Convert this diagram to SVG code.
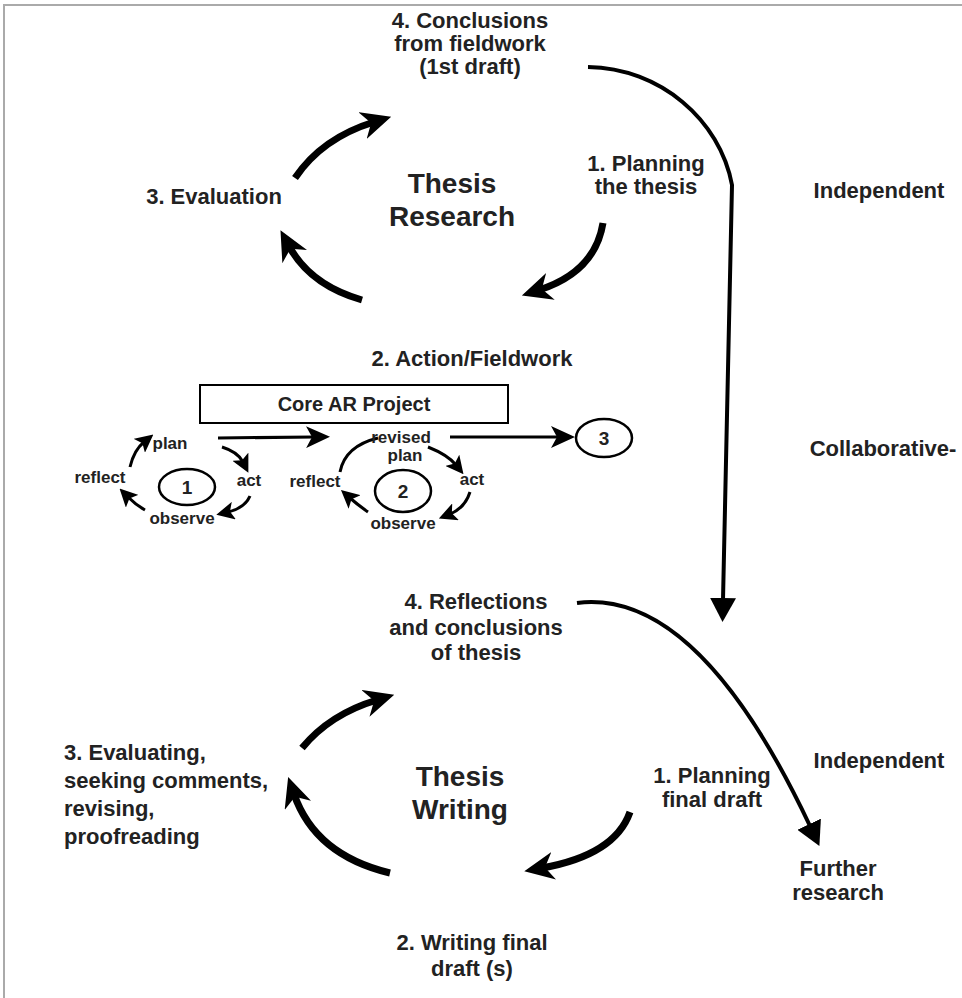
<svg xmlns="http://www.w3.org/2000/svg" width="962" height="998" viewBox="0 0 962 998">
<defs>
<style>
text{font-family:"Liberation Sans",Arial,sans-serif;font-weight:bold;fill:#222;}
.t{font-size:22px;text-anchor:middle;}
.h{font-size:28px;text-anchor:middle;}
.s{font-size:17px;text-anchor:middle;}
.n{font-size:19px;text-anchor:middle;}
.big{fill:none;stroke:#000;stroke-width:7;}
.long{fill:none;stroke:#000;stroke-width:4;}
.sm{fill:none;stroke:#000;stroke-width:3;}
.el{fill:#fff;stroke:#000;stroke-width:2.5;}
</style>
<marker id="mb" viewBox="0 0 30 28" markerWidth="30" markerHeight="28" markerUnits="userSpaceOnUse" refX="12" refY="14" orient="auto"><path d="M0,0 L30,14 L0,28 L9,14 z" fill="#000"/></marker>
<marker id="mm" viewBox="0 0 24 22" markerWidth="24" markerHeight="22" markerUnits="userSpaceOnUse" refX="8" refY="11" orient="auto"><path d="M0,0 L24,11 L0,22 L6,11 z" fill="#000"/></marker>
<marker id="ms" viewBox="0 0 18 18" markerWidth="18" markerHeight="18" markerUnits="userSpaceOnUse" refX="6" refY="9" orient="auto"><path d="M0,0 L18,9 L0,18 L4,9 z" fill="#000"/></marker>
<marker id="mt" viewBox="0 0 24 26" markerWidth="24" markerHeight="26" markerUnits="userSpaceOnUse" refX="2" refY="13" orient="auto"><path d="M0,0 L24,13 L0,26 z" fill="#000"/></marker>
</defs>
<rect width="962" height="998" fill="#fff"/>
<path d="M4,998 L4,5 L962,5" fill="none" stroke="#aaa" stroke-width="2"/>

<g id="connectors">
<path class="big" d="M295,178 Q322,138 374,122" marker-end="url(#mb)"/>
<path class="big" d="M603,223 Q595,272 539,290" marker-end="url(#mb)"/>
<path class="big" d="M362,300 Q310,285 289,246" marker-end="url(#mb)"/>
<path class="big" d="M302,748 Q330,714 377,700" marker-end="url(#mb)"/>
<path class="big" d="M390,873 Q315,855 294,794" marker-end="url(#mb)"/>
<path class="big" d="M630,812 Q615,855 542,868" marker-end="url(#mb)"/>
<path class="long" d="M588,67 C660,68 720,120 732,185 L723,600" marker-end="url(#mt)"/>
<path class="long" d="M577,603 C680,590 760,720 810,826" marker-end="url(#mt)"/>
<path class="sm" d="M218,438 L314,437" marker-end="url(#mm)"/>
<path class="sm" d="M450,437 L559,437" marker-end="url(#mm)"/>
<path class="sm" d="M130,467 Q134,450 144,442" marker-end="url(#ms)"/>
<path class="sm" d="M222,447 Q238,452 243,462" marker-end="url(#ms)"/>
<path class="sm" d="M250,496 Q245,508 228,512" marker-end="url(#ms)"/>
<path class="sm" d="M145,510 Q136,505 128,497" marker-end="url(#ms)"/>
<path class="sm" d="M340,472 Q345,446 378,438"/>
<path class="sm" d="M428,447 Q448,455 456,465" marker-end="url(#ms)"/>
<path class="sm" d="M470,492 Q465,508 450,514" marker-end="url(#ms)"/>
<path class="sm" d="M368,512 Q358,505 350,498" marker-end="url(#ms)"/>
</g>

<g id="conclusions-fieldwork"><text class="t" x="470" y="28">4. Conclusions</text><text class="t" x="470" y="51">from fieldwork</text><text class="t" x="470" y="74">(1st draft)</text></g>
<g id="evaluation"><text class="t" x="214" y="204">3. Evaluation</text></g>
<g id="thesis-research"><text class="h" x="452" y="193">Thesis</text><text class="h" x="452" y="226">Research</text></g>
<g id="planning-thesis"><text class="t" x="646" y="171">1. Planning</text><text class="t" x="646" y="194">the thesis</text></g>
<g id="independent-1"><text class="t" x="879" y="198">Independent</text></g>
<g id="action-fieldwork"><text class="t" x="472" y="366">2. Action/Fieldwork</text></g>
<g id="core-ar"><rect x="200" y="385" width="308" height="38" fill="#fff" stroke="#000" stroke-width="2"/><text class="t" x="354" y="411" style="font-size:20px">Core AR Project</text></g>
<g id="cycle1">
<ellipse class="el" cx="187" cy="487" rx="28" ry="18"/><text class="n" x="187" y="494">1</text>
<text class="s" x="170" y="449">plan</text><text class="s" x="100" y="483">reflect</text><text class="s" x="249" y="486">act</text><text class="s" x="182" y="524">observe</text>
</g>
<g id="cycle2">
<ellipse class="el" cx="403" cy="491" rx="28" ry="21"/><text class="n" x="403" y="498">2</text>
<text class="s" x="401" y="443">revised</text><text class="s" x="405" y="461">plan</text><text class="s" x="315" y="487">reflect</text><text class="s" x="472" y="485">act</text><text class="s" x="403" y="529">observe</text>
</g>
<g id="cycle3"><ellipse class="el" cx="604" cy="438" rx="28" ry="19"/><text class="n" x="604" y="445">3</text></g>
<g id="collaborative"><text class="t" x="883" y="456">Collaborative-</text></g>
<g id="reflections"><text class="t" x="476" y="609">4. Reflections</text><text class="t" x="476" y="635">and conclusions</text><text class="t" x="476" y="660">of thesis</text></g>
<g id="evaluating"><text x="64" y="760" style="font-size:22px">3. Evaluating,</text><text x="64" y="788" style="font-size:22px">seeking comments,</text><text x="64" y="816" style="font-size:22px">revising,</text><text x="64" y="844" style="font-size:22px">proofreading</text></g>
<g id="thesis-writing"><text class="h" x="460" y="786">Thesis</text><text class="h" x="460" y="819">Writing</text></g>
<g id="planning-final"><text class="t" x="712" y="783">1. Planning</text><text class="t" x="712" y="807">final draft</text></g>
<g id="independent-2"><text class="t" x="879" y="768">Independent</text></g>
<g id="further-research"><text class="t" x="838" y="876">Further</text><text class="t" x="838" y="900">research</text></g>
<g id="writing-final"><text class="t" x="472" y="950">2. Writing final</text><text class="t" x="472" y="976">draft (s)</text></g>
</svg>
